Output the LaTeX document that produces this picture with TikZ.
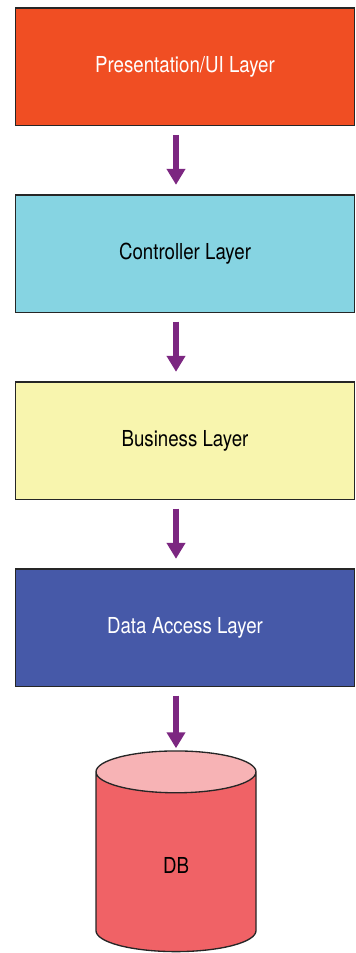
\documentclass[tikz,border=0pt]{standalone}
\usepackage{fontspec}
\setmainfont[FakeStretch=0.85]{TeX Gyre Heros}
\usetikzlibrary{shapes.geometric,arrows.meta}
\definecolor{presred}{HTML}{F04E23}
\definecolor{ctrlcyan}{HTML}{86D4E2}
\definecolor{busyellow}{HTML}{F8F5AE}
\definecolor{dalblue}{HTML}{4659A8}
\definecolor{dbred}{HTML}{F06266}
\definecolor{dbpink}{HTML}{F7B3B5}
\definecolor{arrowpurple}{HTML}{7C2781}
\tikzset{
  layerbox/.style={draw=black!85, line width=1pt, minimum width=254.25pt, minimum height=88pt,
    font=\fontsize{16.5}{19}\selectfont},
  flowarrow/.style={arrowpurple, line width=4.5pt, -{Triangle[width=13.5pt,length=12pt]}},
}
\begin{document}
\begin{tikzpicture}[x=0.75pt, y=-0.75pt]
\useasboundingbox (0,0) rectangle (355,953);
% Les couches
\node[layerbox, fill=presred, text=white] (pres) at (185,66.75) {Presentation/UI Layer};
\node[layerbox, fill=ctrlcyan] (ctrl) at (185,253.5) {Controller Layer};
\node[layerbox, fill=busyellow] (bus) at (185,440.5) {Business Layer};
\node[layerbox, fill=dalblue, text=white] (dal) at (185,627.5) {Data Access Layer};

% Base de donnees
\node[cylinder, shape border rotate=90, aspect=1.2, draw=black!85, line width=1pt,
  cylinder uses custom fill, cylinder body fill=dbred, cylinder end fill=dbpink,
  minimum width=120pt, minimum height=150.5pt, font=\fontsize{16.5}{19}\selectfont] (db) at (176,865.5) {DB};

% Fleches
\foreach \a/\b/\gap in {pres/ctrl/7pt, ctrl/bus/7pt, bus/dal/7pt, dal/db/1.5pt} {
  \draw[flowarrow, shorten <=6.5pt, shorten >=\gap] (\a.south -| db.center) -- (\b.north -| db.center);
}
\end{tikzpicture}
\end{document}
